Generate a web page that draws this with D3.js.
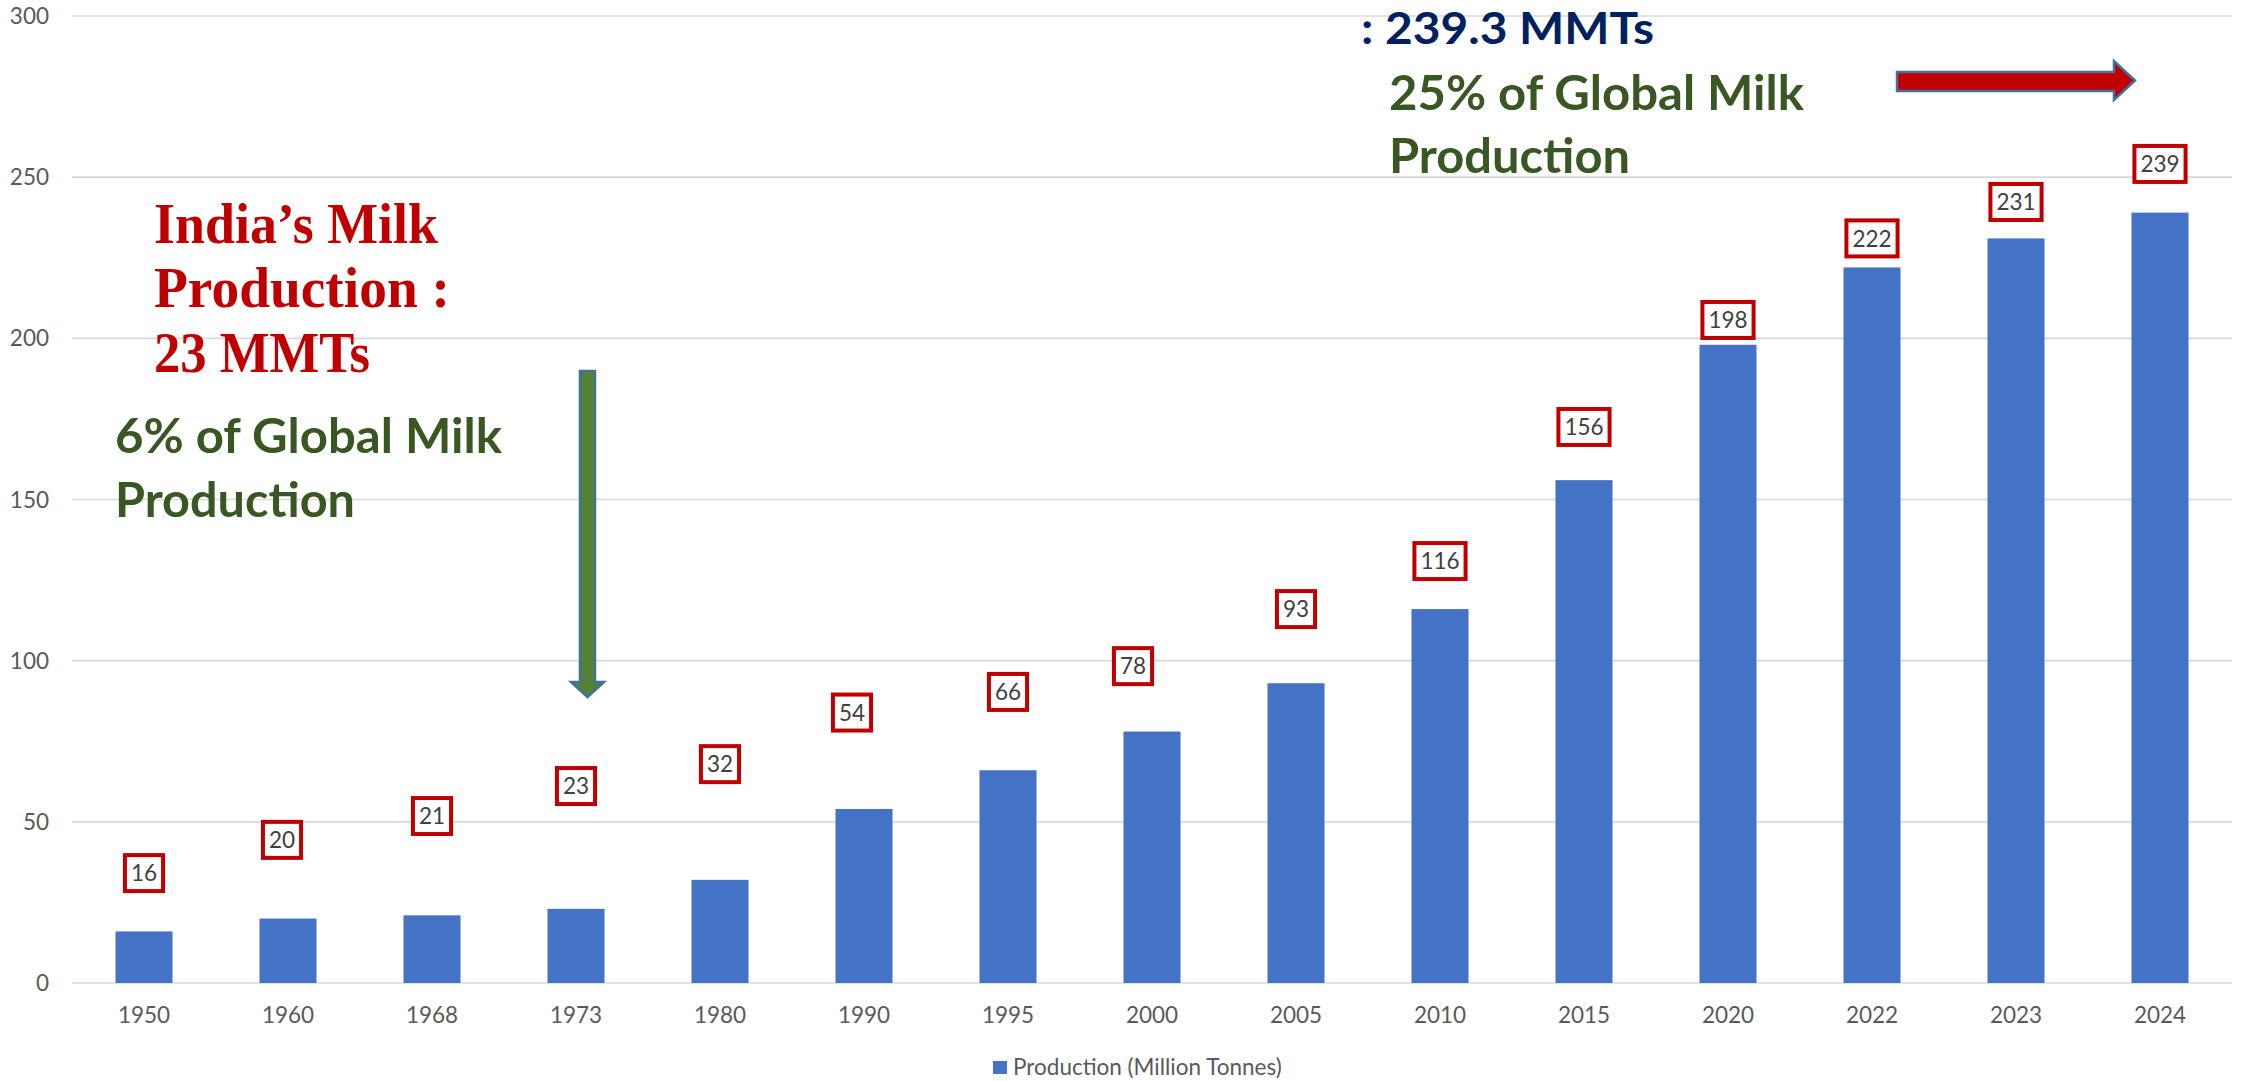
<!DOCTYPE html>
<html>
<head>
<meta charset="utf-8">
<script src="https://cdn.jsdelivr.net/npm/d3@7"></script>
<style>
  html, body { margin: 0; padding: 0; background: #fff; }
  svg { display: block; }
</style>
</head>
<body>
<div id="chart"></div>
<script>
// data
const years = ["1950", "1960", "1968", "1973", "1980", "1990", "1995", "2000", "2005", "2010", "2015", "2020", "2022", "2023", "2024"];
const production = [16, 20, 21, 23, 32, 54, 66, 78, 93, 116, 156, 198, 222, 231, 239];
// where each callout box was dragged to (in million tonnes, same scale as bars)
const labelAt = [34.1, 44.4, 51.8, 61.1, 67.9, 83.9, 90.3, 98.3, 116.0, 130.9, 172.5, 205.7, 231.0, 242.3, 254.1];
const yTicks = [0, 50, 100, 150, 200, 250, 300];
const seriesName = "Production (Million Tonnes)";

// few boxes are not centred on their bar
const labelNudgeX = { "1960": -6, "1990": -12, "2000": -19 };

const W = 2241, H = 1081;
const plotLeft = 72, plotRight = 2232, plotTop = 16, plotBottom = 983;

const svg = d3.select("#chart")
    .append("svg")
    .attr("width", W)
    .attr("height", H)
    .attr("viewBox", [0, 0, W, H]);

const x = d3.scaleBand()
    .domain(years)
    .range([plotLeft, plotRight])
    .paddingInner(0.604)
    .paddingOuter(0.302);

const y = d3.scaleLinear()
    .domain([0, 300])
    .range([plotBottom, plotTop]);

const axisFont = "Lato, 'Open Sans', sans-serif";

// gridlines
svg.append("g")
    .selectAll("line")
    .data(yTicks)
    .join("line")
    .attr("x1", plotLeft)
    .attr("x2", plotRight)
    .attr("y1", d => y(d))
    .attr("y2", d => y(d))
    .attr("stroke", "#d9d9d9")
    .attr("stroke-width", 1.6);

// y tick labels
svg.append("g")
    .selectAll("text")
    .data(yTicks)
    .join("text")
    .attr("x", 49)
    .attr("y", d => y(d))
    .attr("dy", "0.36em")
    .attr("text-anchor", "end")
    .style("font-family", axisFont)
    .style("font-size", "22.5px")
    .style("fill", "#595959")
    .text(d => d);

// bars
svg.append("g")
    .selectAll("rect")
    .data(production)
    .join("rect")
    .attr("x", (d, i) => x(years[i]))
    .attr("y", d => y(d))
    .attr("width", x.bandwidth())
    .attr("height", d => y(0) - y(d))
    .attr("fill", "#4472C4");

// x labels
svg.append("g")
    .selectAll("text")
    .data(years)
    .join("text")
    .attr("x", d => x(d) + x.bandwidth() / 2)
    .attr("y", 1023)
    .attr("text-anchor", "middle")
    .style("font-family", axisFont)
    .style("font-size", "22.5px")
    .style("fill", "#595959")
    .text(d => d);

// boxed data labels
const lab = svg.append("g")
    .selectAll("g")
    .data(production)
    .join("g")
    .attr("transform", (d, i) => {
        const cx = x(years[i]) + x.bandwidth() / 2 + (labelNudgeX[years[i]] || 0);
        return "translate(" + cx + "," + y(labelAt[i]) + ")";
    });

const rects = lab.append("rect")
    .attr("fill", "#fff")
    .attr("stroke", "#C00000")
    .attr("stroke-width", 4);

const texts = lab.append("text")
    .attr("text-anchor", "middle")
    .attr("dy", "0.36em")
    .style("font-family", axisFont)
    .style("font-size", "22.5px")
    .style("fill", "#404040")
    .text(d => d);

texts.each(function (d, i) {
    const w = this.getComputedTextLength() + 12;
    d3.select(rects.nodes()[i])
        .attr("x", -w / 2)
        .attr("y", -18)
        .attr("width", w)
        .attr("height", 36);
});

// legend
svg.append("rect")
    .attr("x", 993)
    .attr("y", 1061)
    .attr("width", 14)
    .attr("height", 13)
    .attr("fill", "#4472C4");
svg.append("text")
    .attr("x", 1013)
    .attr("y", 1075)
    .style("font-family", axisFont)
    .style("font-size", "22.5px")
    .style("fill", "#595959")
    .text(seriesName);

// annotation text blocks
const notes = [
    // red serif block, top left
    { t: "India\u2019s Milk", x: 154, y: 243, w: 284, size: 56, fam: "'Liberation Serif', serif", fill: "#C00000" },
    { t: "Production :", x: 154, y: 307, w: 296, size: 56, fam: "'Liberation Serif', serif", fill: "#C00000" },
    { t: "23 MMTs", x: 154, y: 372, w: 216, size: 56, fam: "'Liberation Serif', serif", fill: "#C00000" },
    // green, left
    { t: "6% of Global Milk", x: 115, y: 453, w: 387, size: 48, fam: axisFont, fill: "#385723" },
    { t: "Production", x: 115, y: 517, w: 240, size: 48, fam: axisFont, fill: "#385723" },
    // navy, top right (sits right against the top edge)
    { t: ": 239.3 MMTs", x: 1361, y: 44, w: 293, size: 44, fam: axisFont, fill: "#002060" },
    // green, right
    { t: "25% of Global Milk", x: 1389, y: 110, w: 415, size: 48, fam: axisFont, fill: "#385723" },
    { t: "Production", x: 1389, y: 173, w: 241, size: 48, fam: axisFont, fill: "#385723" }
];

svg.append("g")
    .selectAll("text")
    .data(notes)
    .join("text")
    .attr("x", d => d.x)
    .attr("y", d => d.y)
    .attr("textLength", d => d.w)
    .attr("lengthAdjust", "spacingAndGlyphs")
    .style("font-family", d => d.fam)
    .style("font-size", d => d.size + "px")
    .style("font-weight", "bold")
    .style("fill", d => d.fill)
    .text(d => d.t);

// block arrows
// green one points down at 1973
svg.append("path")
    .attr("d", "M580,371 L595,371 L595,682 L604,682 L587.5,697 L571,682 L580,682 Z")
    .attr("fill", "#548235")
    .attr("stroke", "#41719C")
    .attr("stroke-width", 2.5)
    .attr("stroke-linejoin", "miter");

// red one points right towards 2024
svg.append("path")
    .attr("d", "M1897,72 L2114,72 L2114,61 L2135,80.5 L2114,100 L2114,91 L1897,91 Z")
    .attr("fill", "#C00000")
    .attr("stroke", "#41719C")
    .attr("stroke-width", 2.5)
    .attr("stroke-linejoin", "miter");
</script>
</body>
</html>
